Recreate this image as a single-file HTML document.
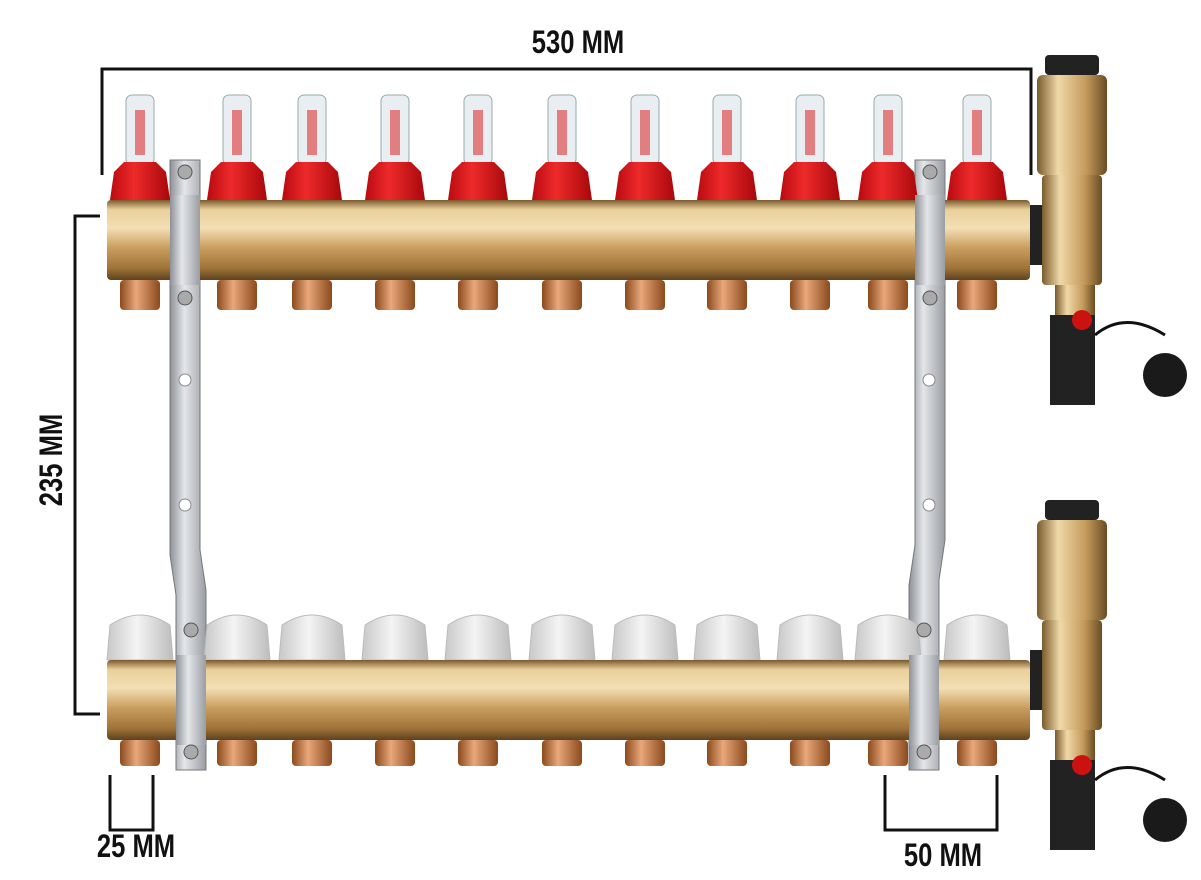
<!DOCTYPE html>
<html><head><meta charset="utf-8"><style>
html,body{margin:0;padding:0;background:#fff;}
svg{display:block}
text{font-family:"Liberation Sans",sans-serif;font-weight:bold;fill:#111}
</style></head><body>
<svg width="1201" height="880" viewBox="0 0 1201 880" xmlns="http://www.w3.org/2000/svg">
<defs>
<linearGradient id="brass" x1="0" y1="0" x2="0" y2="1">
<stop offset="0" stop-color="#7a5a2c"/><stop offset="0.12" stop-color="#e9cf9a"/><stop offset="0.35" stop-color="#f3dfb5"/><stop offset="0.6" stop-color="#c99d5e"/><stop offset="0.85" stop-color="#a0743a"/><stop offset="1" stop-color="#5e421e"/>
</linearGradient>
<linearGradient id="brassV" x1="0" y1="0" x2="1" y2="0">
<stop offset="0" stop-color="#7a5a2c"/><stop offset="0.3" stop-color="#f0d9a8"/><stop offset="0.7" stop-color="#c49a5c"/><stop offset="1" stop-color="#6a4c22"/>
</linearGradient>
<linearGradient id="copper" x1="0" y1="0" x2="1" y2="0">
<stop offset="0" stop-color="#8a4a1c"/><stop offset="0.4" stop-color="#e9a77a"/><stop offset="1" stop-color="#8a4a1c"/>
</linearGradient>
<linearGradient id="steel" x1="0" y1="0" x2="1" y2="0">
<stop offset="0" stop-color="#8d9096"/><stop offset="0.4" stop-color="#e4e6ea"/><stop offset="1" stop-color="#9a9da2"/>
</linearGradient>
<linearGradient id="red" x1="0" y1="0" x2="1" y2="0">
<stop offset="0" stop-color="#b80a10"/><stop offset="0.4" stop-color="#ee2a2a"/><stop offset="1" stop-color="#a8080c"/>
</linearGradient>
<linearGradient id="white" x1="0" y1="0" x2="1" y2="0">
<stop offset="0" stop-color="#c8c8c8"/><stop offset="0.45" stop-color="#f4f4f4"/><stop offset="1" stop-color="#bdbdbd"/>
</linearGradient>
<g id="unit">
<rect x="-14" y="95" width="28" height="70" rx="6" fill="#e9eef2" stroke="#9aa"/>
<rect x="-5" y="110" width="10" height="45" fill="#d33" opacity="0.6"/>
<path d="M-30,200 L-26,172 L-16,162 h32 L26,172 L30,200 z" fill="url(#red)"/>
<rect x="-20" y="280" width="40" height="30" rx="4" fill="url(#copper)"/>
<path d="M-33,660 L-30,625 Q0,605 30,625 L33,660 z" fill="url(#white)" stroke="#bbb"/>
<rect x="-20" y="740" width="40" height="26" rx="4" fill="url(#copper)"/>
</g>
<g id="side">
<rect x="1030" y="150" width="18" height="60" fill="#222"/>
<rect x="1045" y="0" width="54" height="20" rx="4" fill="#222"/>
<rect x="1037" y="20" width="70" height="100" rx="6" fill="url(#brassV)"/>
<rect x="1042" y="120" width="60" height="110" rx="4" fill="url(#brassV)"/>
<rect x="1055" y="230" width="40" height="30" fill="url(#brassV)"/>
<rect x="1050" y="260" width="45" height="90" fill="#222"/>
<circle cx="1082" cy="265" r="10" fill="#c11"/>
<path d="M1095,280 q30,-25 70,0" stroke="#111" stroke-width="3" fill="none"/>
<circle cx="1165" cy="320" r="22" fill="#1a1a1a"/>
</g>
</defs>

<g stroke="#111" stroke-width="3" fill="none">
<polyline points="102,175 102,69 1031,69 1031,175"/>
<polyline points="100,216 75,216 75,714 100,714"/>
<polyline points="110,775 110,830 153,830 153,775"/>
<polyline points="885,775 885,830 997,830 997,775"/>
</g>
<text transform="translate(578,53) scale(0.8,1)" font-size="32" text-anchor="middle">530 MM</text>
<text transform="translate(62,460) rotate(-90) scale(0.8,1)" font-size="32" text-anchor="middle">235 MM</text>
<text transform="translate(136,857) scale(0.8,1)" font-size="32" text-anchor="middle">25 MM</text>
<text transform="translate(943,866) scale(0.8,1)" font-size="32" text-anchor="middle">50 MM</text>

<g fill="url(#steel)" stroke="#777" stroke-width="1">
<path d="M170,160 h30 v390 l6,40 v180 h-30 v-175 l-6,-40 z"/>
<path d="M915,160 h30 v380 l-6,40 v190 h-30 v-185 l6,-40 z"/>
</g>
<g fill="#fff" stroke="#888">
<circle cx="185" cy="380" r="6"/><circle cx="185" cy="505" r="6"/>
<circle cx="929" cy="380" r="6"/><circle cx="929" cy="505" r="6"/>
</g>

<use href="#unit" x="140"/><use href="#unit" x="237"/><use href="#unit" x="312"/><use href="#unit" x="395"/>
<use href="#unit" x="478"/><use href="#unit" x="562"/><use href="#unit" x="645"/><use href="#unit" x="727"/>
<use href="#unit" x="810"/><use href="#unit" x="888"/><use href="#unit" x="977"/>

<rect x="107" y="200" width="923" height="80" rx="4" fill="url(#brass)"/>
<rect x="107" y="660" width="923" height="80" rx="4" fill="url(#brass)"/>
<rect x="170" y="195" width="30" height="90" fill="url(#steel)"/><rect x="915" y="195" width="30" height="90" fill="url(#steel)"/>
<rect x="176" y="655" width="30" height="90" fill="url(#steel)"/><rect x="909" y="655" width="30" height="90" fill="url(#steel)"/>
<g fill="#aaa" stroke="#555">
<circle cx="185" cy="172" r="7"/><circle cx="185" cy="298" r="7"/><circle cx="191" cy="630" r="7"/><circle cx="191" cy="752" r="7"/>
<circle cx="930" cy="172" r="7"/><circle cx="930" cy="298" r="7"/><circle cx="924" cy="630" r="7"/><circle cx="924" cy="752" r="7"/>
</g>
<use href="#side" y="55"/>
<use href="#side" y="500"/>
</svg>
</body></html>
